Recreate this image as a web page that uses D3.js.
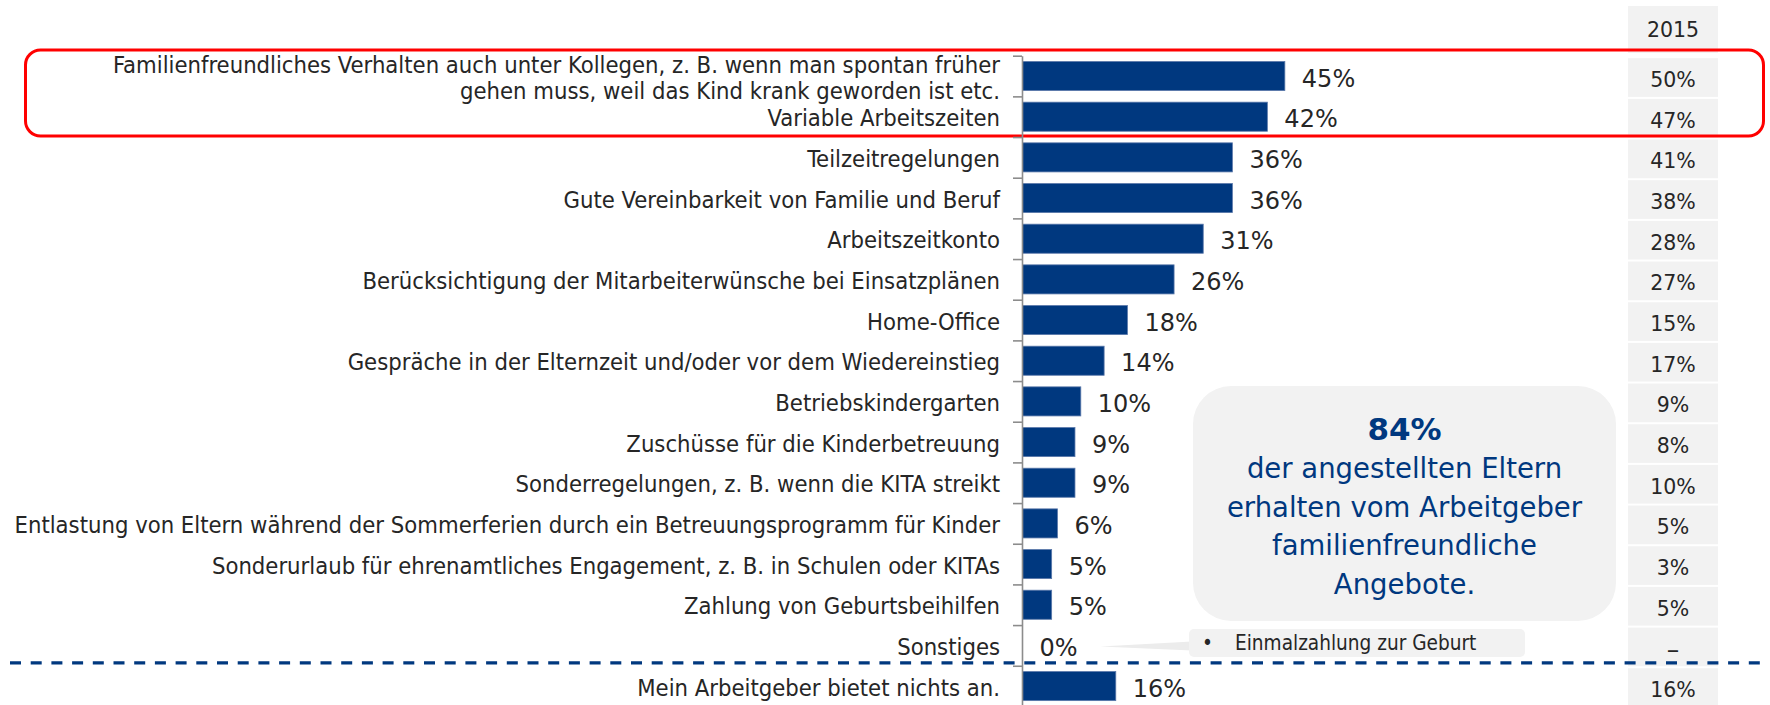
<!DOCTYPE html>
<html><head><meta charset="utf-8">
<script src="https://cdn.jsdelivr.net/npm/d3@7"></script>
<style>body{margin:0;background:#fff}svg{display:block}</style>
</head><body><svg id="c" width="1770" height="705"></svg>
<script>
const categories = [
  "Familienfreundliches Verhalten auch unter Kollegen, z. B. wenn man spontan früher\ngehen muss, weil das Kind krank geworden ist etc.",
  "Variable Arbeitszeiten",
  "Teilzeitregelungen",
  "Gute Vereinbarkeit von Familie und Beruf",
  "Arbeitszeitkonto",
  "Berücksichtigung der Mitarbeiterwünsche bei Einsatzplänen",
  "Home-Office",
  "Gespräche in der Elternzeit und/oder vor dem Wiedereinstieg",
  "Betriebskindergarten",
  "Zuschüsse für die Kinderbetreuung",
  "Sonderregelungen, z. B. wenn die KITA streikt",
  "Entlastung von Eltern während der Sommerferien durch ein Betreuungsprogramm für Kinder",
  "Sonderurlaub für ehrenamtliches Engagement, z. B. in Schulen oder KITAs",
  "Zahlung von Geburtsbeihilfen",
  "Sonstiges",
  "Mein Arbeitgeber bietet nichts an."
];
const values = [45, 42, 36, 36, 31, 26, 18, 14, 10, 9, 9, 6, 5, 5, 0, 16];
const values2015 = [50, 47, 41, 38, 28, 27, 15, 17, 9, 8, 10, 5, 3, 5, null, 16];
const columnHeader = "2015";
const highlightedRows = [0, 1];
const separatorAfter = 14;
const calloutHeadline = "84%";
const calloutLines = ["der angestellten Eltern", "erhalten vom Arbeitgeber", "familienfreundliche", "Angebote."];
const noteText = "Einmalzahlung zur Geburt";
const noteRow = 14;

const BLUE = "#00387f", GREY = "#f2f2f2", TEXT = "#262626";
const svg = d3.select("#c");

const idx = d3.range(categories.length);
const y = d3.scaleBand().domain(idx).range([55.7, 55.7 + 16 * 40.67]).paddingInner(0.285).paddingOuter(0.1425);
const yLin = d3.scaleLinear().domain([0, categories.length]).range(y.range());
const x = d3.scaleLinear().domain([0, 50]).range([1022.5, 1022.5 + 50 * 5.83]);

// 2015 column cells
const colX = 1628, colW = 90;
svg.append("rect").attr("x", colX).attr("y", 6).attr("width", colW).attr("height", 47).attr("fill", GREY);
svg.append("text").attr("x", colX + colW / 2).attr("y", 30).attr("dy", "0.36em")
  .attr("text-anchor", "middle").attr("font-family", "DejaVu Sans").attr("font-size", 20.5)
  .attr("fill", TEXT).text(columnHeader);
const cells = svg.append("g");
cells.selectAll("rect").data(idx).join("rect")
  .attr("x", colX).attr("width", colW)
  .attr("y", i => yLin(i) + 2.5).attr("height", y.step() - 2)
  .attr("fill", GREY);
cells.selectAll("text").data(idx).join("text")
  .attr("x", colX + colW / 2).attr("y", i => yLin(i) + 2.5 + (y.step() - 2) / 2 + 2)
  .attr("dy", "0.36em").attr("text-anchor", "middle")
  .attr("font-family", "DejaVu Sans").attr("font-size", i => values2015[i] == null ? 25 : 20.5).attr("fill", TEXT)
  .text(i => values2015[i] == null ? "–" : values2015[i] + "%");

// highlight box
const hTop = yLin(highlightedRows[0]) - 5.7, hBot = yLin(highlightedRows[highlightedRows.length - 1] + 1) - 1;
svg.append("rect").attr("x", 25.5).attr("y", hTop).attr("width", 1738).attr("height", hBot - hTop)
  .attr("rx", 15).attr("fill", "none").attr("stroke", "#ff0000").attr("stroke-width", 3);

// bars
svg.append("g").selectAll("rect").data(idx).join("rect")
  .attr("x", x(0)).attr("y", i => y(i))
  .attr("width", i => x(values[i]) - x(0)).attr("height", y.bandwidth())
  .attr("fill", BLUE).attr("stroke", "#5a78aa").attr("stroke-width", i => values[i] > 0 ? 0.8 : 0);

// value labels
svg.append("g").selectAll("text").data(idx).join("text")
  .attr("x", i => x(values[i]) + 17).attr("y", i => y(i) + y.bandwidth() / 2 + 2)
  .attr("dy", "0.36em").attr("font-family", "DejaVu Sans").attr("font-size", 24)
  .attr("fill", TEXT).text(i => values[i] + "%");

// category labels
const lab = svg.append("g").attr("font-family", "DejaVu Sans Condensed").attr("font-size", 23.6)
  .attr("fill", TEXT).attr("text-anchor", "end");
idx.forEach(i => {
  const lines = categories[i].split("\n");
  const cy = y(i) + y.bandwidth() / 2 + 1;
  const lh = 26.5;
  const t = lab.append("text").attr("x", 1000).attr("y", cy - (lines.length - 1) * lh / 2 + (lines.length > 1 ? 0.5 : 0));
  lines.forEach((l, k) => t.append("tspan").attr("x", 1000).attr("dy", k === 0 ? "0.36em" : lh).text(l));
});

// axis with ticks at band boundaries
const axis = svg.append("g").attr("transform", `translate(${x(0) - 0.5},0)`)
  .call(d3.axisLeft(yLin).ticks(categories.length).tickSizeInner(9).tickSizeOuter(0).tickFormat(""));
axis.selectAll("path,line").attr("stroke", "#8c8c8c").attr("stroke-width", 1.6);

// callout box
const cb = { x: 1193, y: 386, w: 423, h: 235 };
svg.append("rect").attr("x", cb.x).attr("y", cb.y).attr("width", cb.w).attr("height", cb.h)
  .attr("rx", 38).attr("fill", GREY);
const cx = cb.x + cb.w / 2;
svg.append("text").attr("x", cx).attr("y", 440).attr("text-anchor", "middle")
  .attr("font-family", "DejaVu Sans").attr("font-weight", "bold").attr("font-size", 31)
  .attr("fill", BLUE).text(calloutHeadline);
svg.append("g").selectAll("text").data(calloutLines).join("text")
  .attr("x", cx).attr("y", (d, k) => 478.3 + k * 38.4).attr("text-anchor", "middle")
  .attr("font-family", "DejaVu Sans").attr("font-size", 27.5).attr("fill", BLUE).text(d => d);

// note box with pointer
const ny = y(noteRow) + y.bandwidth() / 2 + 1;
svg.append("path")
  .attr("d", `M${x(values[noteRow]) + 78},${ny} L1192,${ny - 5} L1192,${ny + 4} Z`)
  .attr("fill", "#ececec");
svg.append("rect").attr("x", 1189).attr("y", 629).attr("width", 336).attr("height", 28)
  .attr("rx", 5).attr("fill", GREY);
svg.append("text").attr("x", 1202).attr("y", 643).attr("dy", "0.36em")
  .attr("font-family", "DejaVu Sans Condensed").attr("font-size", 20.6).attr("fill", TEXT).text("•");
svg.append("text").attr("x", 1235).attr("y", 643).attr("dy", "0.36em")
  .attr("font-family", "DejaVu Sans Condensed").attr("font-size", 20.6).attr("fill", TEXT).text(noteText);

// separator dashed line
const sepY = yLin(separatorAfter + 1) - 2.8;
svg.append("line").attr("x1", 10).attr("x2", 1765).attr("y1", sepY).attr("y2", sepY)
  .attr("stroke", BLUE).attr("stroke-width", 3.3).attr("stroke-dasharray", "11,9.7");
</script></body></html>
